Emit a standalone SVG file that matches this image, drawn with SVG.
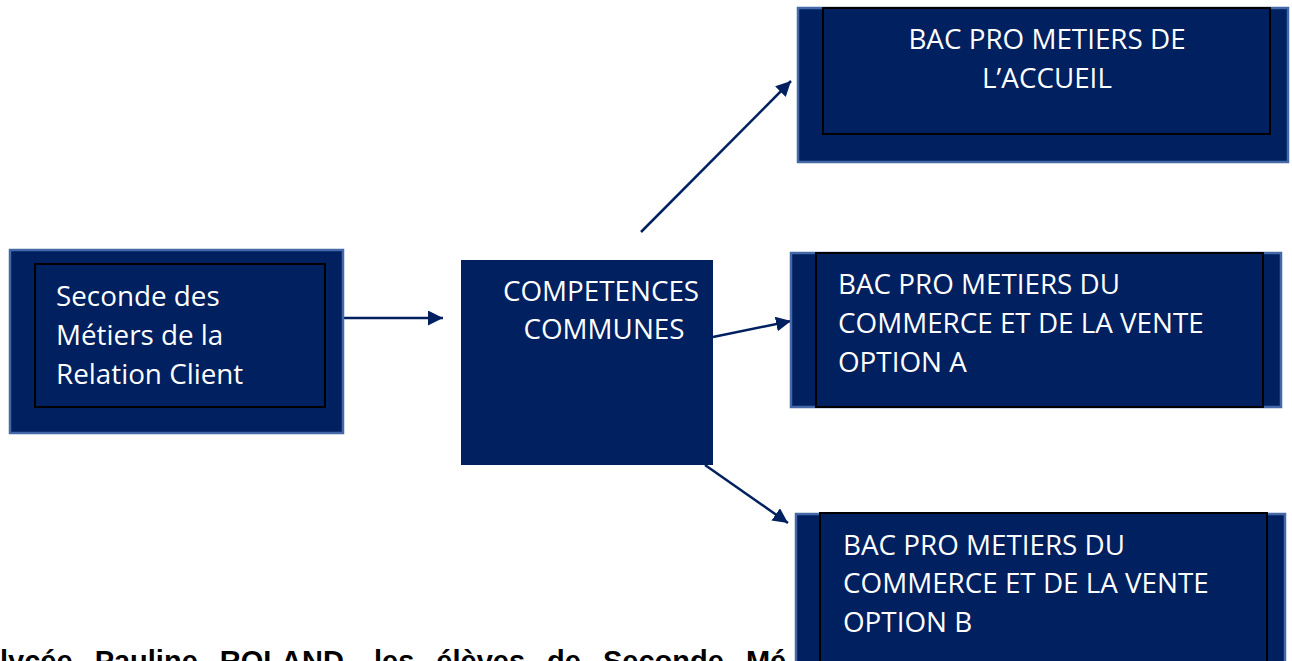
<svg xmlns="http://www.w3.org/2000/svg" width="1292" height="661" viewBox="0 0 1292 661">
  <style>
    .outer { fill: #002060; stroke: #4468a8; stroke-width: 2.5; }
    .plain { fill: #002060; stroke: none; }
    .inner { fill: #002060; stroke: #000000; stroke-width: 2; }
    .lbl { font-family: "Open Sans", "Noto Sans", sans-serif; font-size: 27.8px; fill: #ffffff; }
    .mid { text-anchor: middle; }
    .conn { stroke: #002060; stroke-width: 2.5; fill: none; marker-end: url(#arrow); }
    .caption { font-family: "Liberation Sans", Arial, sans-serif; font-size: 29px; font-weight: bold; fill: #000000; word-spacing: 14px; }
  </style>
  <defs>
    <marker id="arrow" markerUnits="userSpaceOnUse" markerWidth="16" markerHeight="16" refX="15" refY="7.5" orient="auto">
      <path d="M0,0 L15,7.5 L0,15 z" fill="#002060"/>
    </marker>
  </defs>
  <rect width="1292" height="661" fill="#ffffff"/>

  <text class="caption" x="0" y="671">lycée Pauline ROLAND, les élèves de Seconde Mé</text>

  <g id="connectors">
    <line class="conn" x1="343" y1="318" x2="443" y2="318"/>
    <line class="conn" x1="641" y1="232" x2="791" y2="81"/>
    <line class="conn" x1="713" y1="337" x2="791" y2="321"/>
    <line class="conn" x1="705" y1="465" x2="788" y2="523"/>
  </g>

  <g id="node-seconde">
    <rect class="outer" x="10" y="250" width="333" height="183"/>
    <rect class="inner" x="35" y="264" width="290" height="143"/>
    <text class="lbl" x="56" y="306">Seconde des</text>
    <text class="lbl" x="56" y="345">Métiers de la</text>
    <text class="lbl" x="56" y="384">Relation Client</text>
  </g>

  <g id="node-competences">
    <rect class="plain" x="461" y="260" width="252" height="205"/>
    <text class="lbl mid" x="601" y="301">COMPETENCES</text>
    <text class="lbl mid" x="604" y="339">COMMUNES</text>
  </g>

  <g id="node-accueil">
    <rect class="outer" x="798" y="8" width="490" height="154"/>
    <rect class="inner" x="823" y="8" width="447" height="126"/>
    <text class="lbl mid" x="1047" y="49">BAC PRO METIERS DE</text>
    <text class="lbl mid" x="1047" y="88">L’ACCUEIL</text>
  </g>

  <g id="node-option-a">
    <rect class="outer" x="791" y="253" width="490" height="154"/>
    <rect class="inner" x="816" y="253" width="447" height="154"/>
    <text class="lbl" x="838" y="294">BAC PRO METIERS DU</text>
    <text class="lbl" x="838" y="333">COMMERCE ET DE LA VENTE</text>
    <text class="lbl" x="838" y="372">OPTION A</text>
  </g>

  <g id="node-option-b">
    <rect class="outer" x="796" y="514" width="489" height="160"/>
    <rect class="inner" x="820" y="513" width="447" height="160"/>
    <text class="lbl" x="843" y="555">BAC PRO METIERS DU</text>
    <text class="lbl" x="843" y="593">COMMERCE ET DE LA VENTE</text>
    <text class="lbl" x="843" y="632">OPTION B</text>
  </g>
</svg>
